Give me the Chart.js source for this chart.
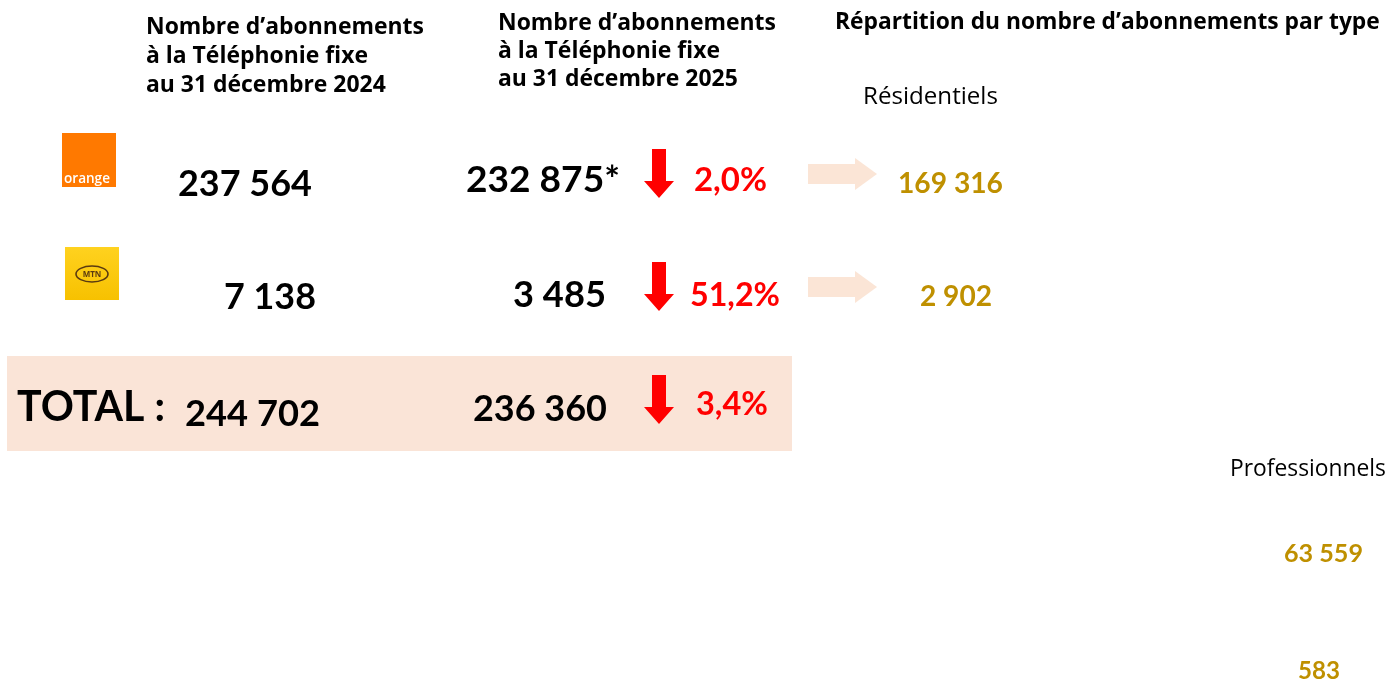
<!DOCTYPE html>
<html><head><meta charset="utf-8">
<script src="https://cdn.jsdelivr.net/npm/chart.js@4"></script>
<style>html,body{margin:0;padding:0;background:#fff}#wrap{width:1386px;height:681px;position:relative}</style>
</head><body><div id="wrap"><canvas id="c"></canvas></div>
<script>
// ---- data ----
const operators = ['Orange', 'MTN'];
const subs2024 = [237564, 7138];
const subs2025 = [232875, 3485];
const subs2025Note = ['*', ''];
const changePct = [-2.0, -51.2];
const residentiels = [169316, 2902];
const professionnels = [63559, 583];
const total2024 = 244702;
const total2025 = 236360;
const totalChangePct = -3.4;
const headerLeft = ['Nombre d\u2019abonnements', '\u00e0 la T\u00e9l\u00e9phonie fixe', 'au 31 d\u00e9cembre 2024'];
const headerMid = ['Nombre d\u2019abonnements', '\u00e0 la T\u00e9l\u00e9phonie fixe', 'au 31 d\u00e9cembre 2025'];
const headerRight = 'R\u00e9partition du nombre d\u2019abonnements par type';
const typeLabels = ['R\u00e9sidentiels', 'Professionnels'];

const fmt = v => Math.abs(v).toLocaleString('fr-FR').replace(/\s/g, ' ');
const pct = v => Math.abs(v).toFixed(1).replace('.', ',') + '%';

const HEAD = '"Open Sans", sans-serif';
const NUM = 'Lato, "Open Sans", sans-serif';

const drawPlugin = {
  id: 'infographic',
  beforeDraw(chart) {
    const ctx = chart.ctx;
    const X = v => chart.scales.x.getPixelForValue(v);
    const Y = v => chart.scales.y.getPixelForValue(v);
    ctx.save();
    ctx.fillStyle = '#fff';
    ctx.fillRect(0, 0, chart.width, chart.height);

    function text(s, x, y, font, color, align) {
      ctx.font = font; ctx.fillStyle = color; ctx.textAlign = align || 'left'; ctx.textBaseline = 'alphabetic';
      ctx.fillText(s, X(x), Y(y));
    }
    function fitSize(s, w, weight, fam) {
      ctx.font = weight + ' 100px ' + fam;
      return 100 * w / ctx.measureText(s).width;
    }
    function fit(s, x0, x1, y, weight, fam, color) {
      const size = fitSize(s, x1 - x0, weight, fam);
      text(s, x0, y, weight + ' ' + size + 'px ' + fam, color, 'left');
    }
    function downArrow(cx, y0, y1, color) {
      const sw = 7, hw = 15, hy = y1 - 17;
      ctx.fillStyle = color;
      ctx.beginPath();
      ctx.moveTo(X(cx - sw), Y(y0)); ctx.lineTo(X(cx + sw), Y(y0));
      ctx.lineTo(X(cx + sw), Y(hy)); ctx.lineTo(X(cx + hw), Y(hy));
      ctx.lineTo(X(cx), Y(y1)); ctx.lineTo(X(cx - hw), Y(hy));
      ctx.lineTo(X(cx - sw), Y(hy)); ctx.closePath(); ctx.fill();
    }
    function rightArrow(x0, x1, cy, color) {
      const sh = 10, hh = 16, hx = x1 - 22;
      ctx.fillStyle = color;
      ctx.beginPath();
      ctx.moveTo(X(x0), Y(cy - sh)); ctx.lineTo(X(hx), Y(cy - sh));
      ctx.lineTo(X(hx), Y(cy - hh)); ctx.lineTo(X(x1), Y(cy));
      ctx.lineTo(X(hx), Y(cy + hh)); ctx.lineTo(X(hx), Y(cy + sh));
      ctx.lineTo(X(x0), Y(cy + sh)); ctx.closePath(); ctx.fill();
    }

    // total band
    ctx.fillStyle = '#FAE4D7';
    ctx.fillRect(X(7), Y(356), X(792) - X(7), Y(451) - Y(356));

    // headers
    const hs = fitSize(headerLeft[0], 278, 'bold', HEAD);
    const hf = 'bold ' + hs + 'px ' + HEAD;
    headerLeft.forEach((s, i) => text(s, 146, 34 + i * 29, hf, '#000'));
    headerMid.forEach((s, i) => text(s, 498, 30 + i * 28, hf, '#000'));
    fit(headerRight, 835, 1380, 29, 'bold', HEAD, '#000');
    fit(typeLabels[0], 863, 998, 104, '', HEAD, '#000');
    fit(typeLabels[1], 1230, 1386, 476, '', HEAD, '#000');

    // logos
    ctx.fillStyle = '#FF7900';
    ctx.fillRect(X(62), Y(133), 54, 54);
    fit('orange', 64, 110, 183, '600', HEAD, '#fff');
    const g = ctx.createLinearGradient(0, Y(247), 0, Y(300));
    g.addColorStop(0, '#FFD21F'); g.addColorStop(1, '#F7C100');
    ctx.fillStyle = g;
    ctx.fillRect(X(65), Y(247), 54, 53);
    ctx.strokeStyle = '#5a3a10'; ctx.lineWidth = 1.6;
    ctx.beginPath(); ctx.ellipse(X(92), Y(274), 16, 8, 0, 0, Math.PI * 2); ctx.stroke();
    text('MTN', 92, 277, 'bold 8px ' + HEAD, '#5a3a10', 'center');

    // rows
    const rowY = [184, 297];
    const x24 = [[178, 312], [224, 316]];
    const x25 = [[466, 620], [513, 606]];
    const pctX = [[694, 767], [690, 780]];
    const arrowY = [[149, 198], [262, 311]];
    const resX = [[898, 1003], [920, 992]];
    const proY = [[1284, 1363, 562], [1298, 1340, 679]];
    operators.forEach((op, i) => {
      fit(fmt(subs2024[i]), x24[i][0], x24[i][1], rowY[i] + 12, 'bold', NUM, '#000');
      fit(fmt(subs2025[i]) + subs2025Note[i], x25[i][0], x25[i][1], rowY[i] + 8 - (i ? -2 : 0), 'bold', NUM, '#000');
      downArrow(659, arrowY[i][0], arrowY[i][1], '#FF0000');
      fit(pct(changePct[i]), pctX[i][0], pctX[i][1], rowY[i] + 7 + (i ? 2 : 0), 'bold', NUM, '#FF0000');
      rightArrow(808, 877, rowY[i] - 10, '#FBE5D6');
      fit(fmt(residentiels[i]), resX[i][0], resX[i][1], rowY[i] + 9, 'bold', NUM, '#BF9000');
      fit(fmt(professionnels[i]), proY[i][0], proY[i][1], proY[i][2], 'bold', NUM, '#BF9000');
    });

    // total row
    fit('TOTAL :', 17, 165, 421, 'bold', NUM, '#000');
    fit(fmt(total2024), 185, 320, 426, 'bold', NUM, '#000');
    fit(fmt(total2025), 473, 607, 421, 'bold', NUM, '#000');
    downArrow(659, 375, 424, '#FF0000');
    fit(pct(totalChangePct), 696, 768, 415, 'bold', NUM, '#FF0000');
    ctx.restore();
  }
};

new Chart(document.getElementById('c'), {
  type: 'scatter',
  data: { datasets: [{ data: [], pointRadius: 0 }] },
  options: {
    responsive: true, maintainAspectRatio: false, animation: false,
    layout: { padding: 0 },
    plugins: { legend: { display: false }, tooltip: { enabled: false } },
    scales: {
      x: { type: 'linear', display: false, min: 0, max: 1386 },
      y: { type: 'linear', display: false, min: 0, max: 681, reverse: true }
    }
  },
  plugins: [drawPlugin]
});
</script></body></html>
